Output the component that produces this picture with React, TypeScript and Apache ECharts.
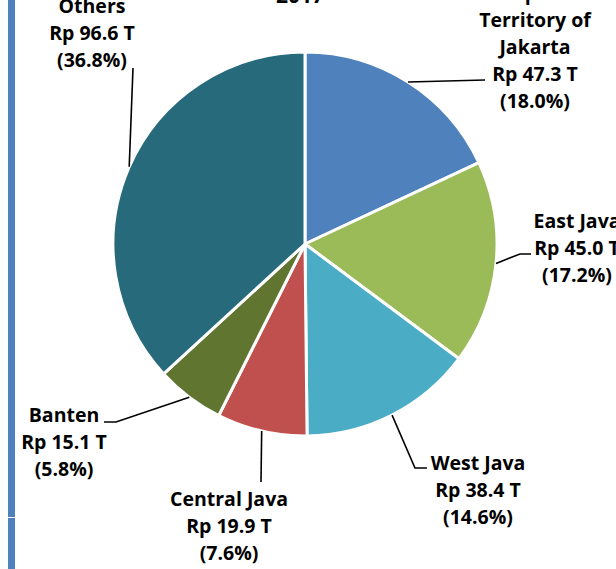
import React, { useEffect, useRef } from "react";
import * as echarts from "echarts";

const regions = ["Special\nCapital\nTerritory of\nJakarta", "East Java", "West Java", "Central Java", "Banten", "Others"];
const values = [47.3, 45.0, 38.4, 19.9, 15.1, 96.6];
const percents = ["18.0%", "17.2%", "14.6%", "7.6%", "5.8%", "36.8%"];
const colors = ["#4F81BD", "#9BBB59", "#4BACC6", "#C0504D", "#5F7530", "#276A7C"];
const titleText = "2017";

// label block centres (layout only)
const labelPos: [number, number][] = [
  [535, 33],
  [577, 247],
  [478, 489],
  [229, 525],
  [64, 441],
  [92, 32],
];
// leader line tail points near each label (layout only)
const leaderTails: [number, number][][] = [
  [[485, 80]],
  [[520, 254], [531, 254]],
  [[415, 468], [427, 468]],
  [[261, 482]],
  [[116, 422], [104, 422]],
  [[133, 68]],
];

export default function App() {
  const ref = useRef<HTMLDivElement>(null);
  useEffect(() => {
    const chart = echarts.init(ref.current!, null, { renderer: "svg" });
    const font = "'Open Sans', sans-serif";
    chart.setOption({
      animation: false,
      backgroundColor: "#ffffff",
      series: [
        {
          type: "pie",
          center: [305, 244],
          radius: [0, 192],
          startAngle: 90,
          clockwise: true,
          avoidLabelOverlap: false,
          itemStyle: { borderColor: "#ffffff", borderWidth: 3 },
          label: {
            show: true,
            position: "outside",
            fontFamily: font,
            fontWeight: "bold",
            fontSize: 19.5,
            lineHeight: 27,
            color: "#000",
            align: "center",
            formatter: (p: any) => `${regions[p.dataIndex]}\nRp ${values[p.dataIndex].toFixed(1)} T\n(${percents[p.dataIndex]})`,
          },
          labelLine: { show: false },
          labelLayout: (params: any) => {
            const [cx, cy] = labelPos[params.dataIndex];
            return { x: cx, y: cy, align: "center", verticalAlign: "middle" };
          },
          data: values.map((v, i) => ({ name: regions[i], value: v, itemStyle: { color: colors[i] } })),
        },
      ],
    });

    // leader lines starting at each slice's mid-angle on the rim (from ECharts' own layout)
    const data = (chart as any).getModel().getSeriesByIndex(0).getData();
    const lines: any[] = [];
    for (let i = 0; i < values.length; i++) {
      const l = data.getItemLayout(i);
      const mid = (l.startAngle + l.endAngle) / 2;
      const sx = l.cx + l.r * Math.cos(mid);
      const sy = l.cy + l.r * Math.sin(mid);
      lines.push({
        type: "polyline",
        shape: { points: [[sx, sy], ...leaderTails[i]] },
        style: { stroke: "#000", lineWidth: 1.6, fill: null },
        z: 10,
      });
    }
    chart.setOption({
      graphic: [
        { type: "rect", shape: { x: 8, y: 0, width: 7, height: 517 }, style: { fill: "#4F81BD" } },
        { type: "rect", shape: { x: 8, y: 518, width: 7, height: 51 }, style: { fill: "#4F81BD" } },
        {
          type: "text",
          x: 300,
          y: -5,
          style: {
            text: titleText,
            fontFamily: font,
            fontWeight: "bold",
            fontSize: 21,
            fill: "#000",
            align: "center",
            verticalAlign: "middle",
          },
        },
        ...lines,
      ],
    });
    return () => chart.dispose();
  }, []);
  return <div ref={ref} style={{ position: "absolute", left: 0, top: 0, width: 616, height: 569 }} />;
}
